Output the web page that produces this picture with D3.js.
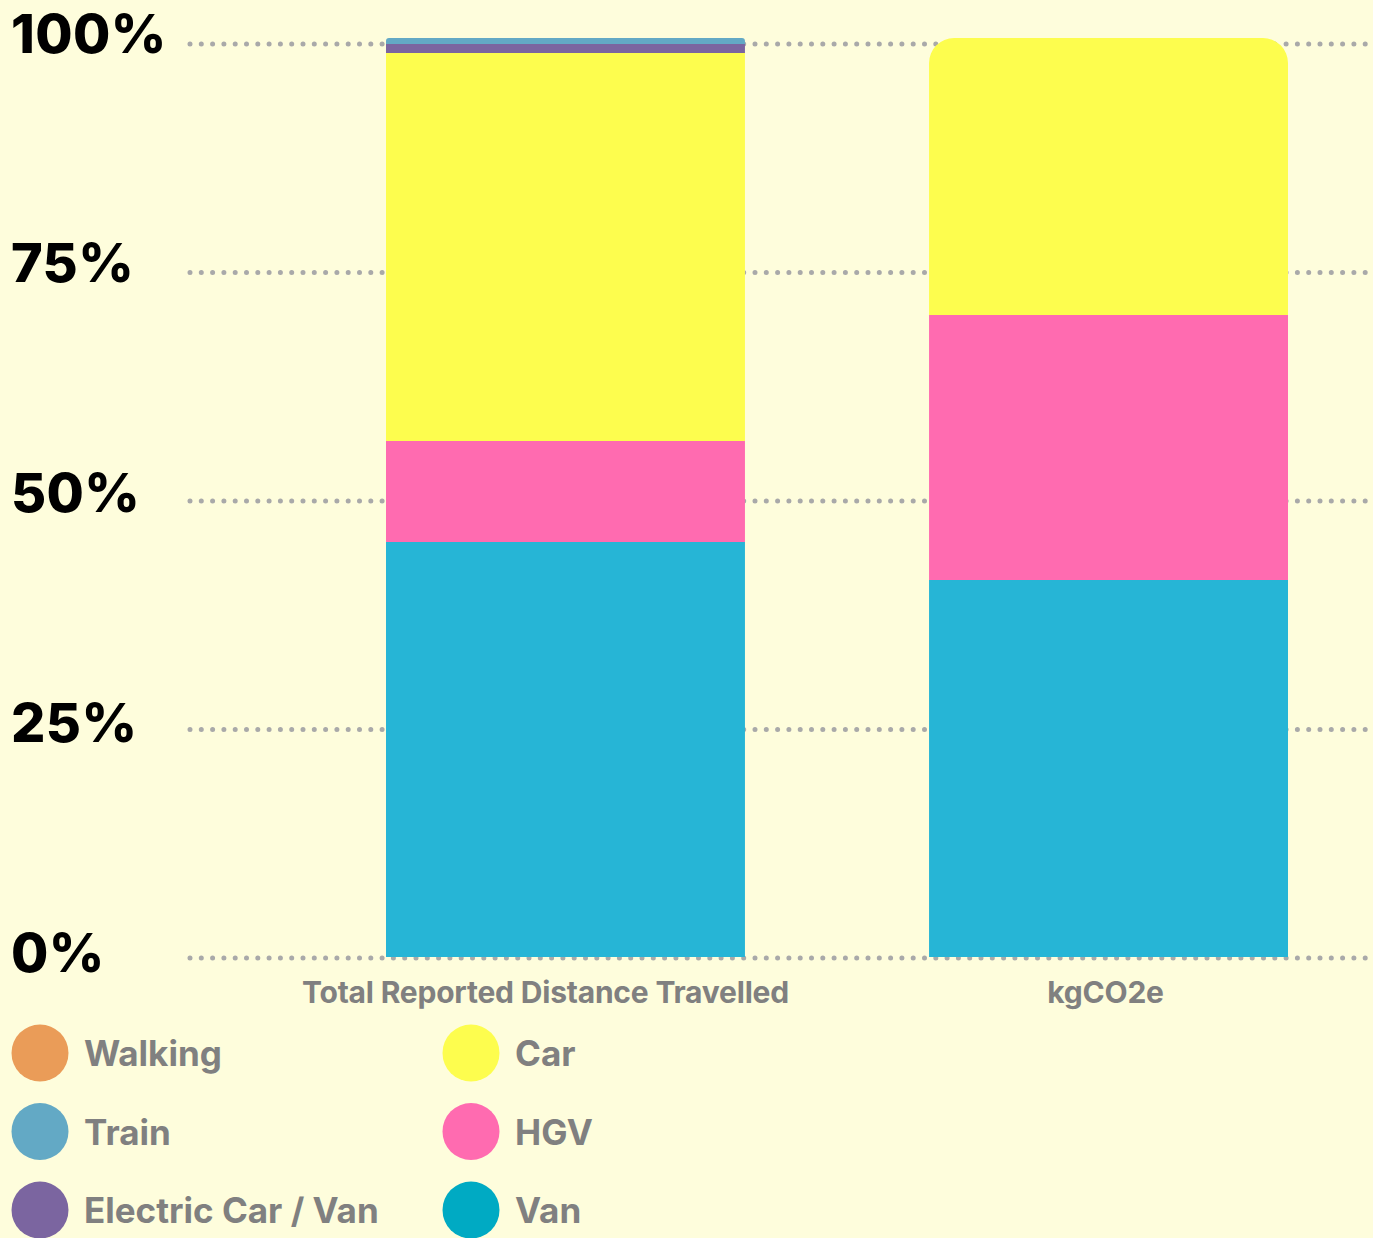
<!DOCTYPE html>
<html>
<head>
<meta charset="utf-8">
<script src="https://cdn.jsdelivr.net/npm/d3@7"></script>
<style>
  html, body { margin: 0; padding: 0; background: #fefddc; }
  svg { display: block; }
</style>
</head>
<body>
<svg id="chart" width="1373" height="1238"></svg>
<script>
// ---- data ----
const categories = ["Total Reported Distance Travelled", "kgCO2e"];
const seriesNames = ["Van", "HGV", "Car", "Electric Car / Van", "Train", "Walking"];
const van      = [45.16, 41.02];
const hgv      = [10.99, 28.84];
const car      = [42.22, 30.14];
const electric = [0.98, 0];
const train    = [0.65, 0];
const walking  = [0, 0];
const tickValues = [0, 25, 50, 75, 100];
const tickLabels = ["0%", "25%", "50%", "75%", "100%"];
const legendOrder = ["Walking", "Train", "Electric Car / Van", "Car", "HGV", "Van"];

// ---- styles ----
const barColors = {
  "Van": "#26b5d6", "HGV": "#ff6bb0", "Car": "#fdfd4e",
  "Electric Car / Van": "#7b65a0", "Train": "#63a9c5", "Walking": "#ea9c58"
};
const legendColors = {
  "Van": "#00aac3", "HGV": "#ff6bb0", "Car": "#fdfd4e",
  "Electric Car / Van": "#7b65a0", "Train": "#63a9c5", "Walking": "#ea9c58"
};

const table = categories.map((c, i) => ({
  category: c,
  "Van": van[i], "HGV": hgv[i], "Car": car[i],
  "Electric Car / Van": electric[i], "Train": train[i], "Walking": walking[i]
}));

const svg = d3.select("#chart");
const W = 1373;

const x = d3.scaleBand().domain(categories).range([386, 1288]).paddingInner(0.339).paddingOuter(0);
const y = d3.scaleLinear().domain([0, 100]).range([957, 38]);
const yGrid = y.copy().range([958, 44]);

// grid
svg.append("g").selectAll("line").data(tickValues).join("line")
  .attr("x1", 190).attr("x2", W + 5)
  .attr("y1", d => yGrid(d)).attr("y2", d => yGrid(d))
  .attr("stroke", "#a9a9a9").attr("stroke-width", 5)
  .attr("stroke-linecap", "round").attr("stroke-dasharray", "0 11.3");

// tick labels
svg.append("g").selectAll("text").data(tickValues).join("text")
  .attr("x", 11).attr("y", d => y(d) - 5)
  .attr("dominant-baseline", "central")
  .attr("font-family", "Inter, sans-serif").attr("font-weight", 800)
  .attr("font-size", 54).attr("letter-spacing", 0.4)
  .attr("fill", "#000")
  .text((d, i) => tickLabels[i]);

// stacked bars
const stack = d3.stack().keys(seriesNames);
const stacked = stack(table);

function topRoundedPath(x0, y0, w, h, r) {
  r = Math.min(r, h / 2, w / 2);
  const p = d3.path();
  p.moveTo(x0, y0 + h);
  p.lineTo(x0, y0 + r);
  p.arcTo(x0, y0, x0 + r, y0, r);
  p.lineTo(x0 + w - r, y0);
  p.arcTo(x0 + w, y0, x0 + w, y0 + r, r);
  p.lineTo(x0 + w, y0 + h);
  p.closePath();
  return p.toString();
}

const topKey = categories.map((c, i) => {
  let k = null;
  stacked.forEach(s => { if (s[i][1] - s[i][0] > 0) k = s.key; });
  return k;
});

const gBars = svg.append("g");
stacked.forEach(s => {
  s.forEach((d, i) => {
    const v = d[1] - d[0];
    if (v <= 0) return;
    const x0 = x(categories[i]);
    const y0 = y(d[1]);
    const h = y(d[0]) - y(d[1]);
    const r = topKey[i] === s.key ? 25 : 0;
    gBars.append("path")
      .attr("d", topRoundedPath(x0, y0, x.bandwidth(), h, r))
      .attr("fill", barColors[s.key]);
  });
});

// category labels
svg.append("g").selectAll("text").data(categories).join("text")
  .attr("x", d => x(d) + x.bandwidth() / 2 - (d === categories[0] ? 20 : 3))
  .attr("y", 992)
  .attr("text-anchor", "middle").attr("dominant-baseline", "central")
  .attr("font-family", "Inter, sans-serif").attr("font-weight", 700)
  .attr("font-size", 30).attr("letter-spacing", -0.2)
  .attr("fill", "#808080")
  .text(d => d);

// legend
const leg = svg.append("g");
legendOrder.forEach((name, i) => {
  const col = Math.floor(i / 3), row = i % 3;
  const cx = 40 + col * 431;
  const cy = 1053 + row * 78.5;
  leg.append("circle").attr("cx", cx).attr("cy", cy).attr("r", 28.5)
    .attr("fill", legendColors[name]);
  leg.append("text").attr("x", cx + 44).attr("y", cy)
    .attr("dominant-baseline", "central")
    .attr("font-family", "Inter, sans-serif").attr("font-weight", 700)
    .attr("font-size", 35).attr("letter-spacing", 0)
    .attr("fill", "#808080")
    .text(name);
});
</script>
</body>
</html>
